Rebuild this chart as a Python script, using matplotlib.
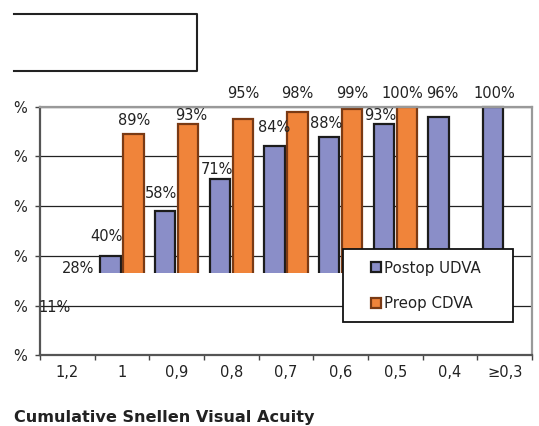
import numpy as np
import matplotlib.pyplot as plt
from matplotlib.patches import Rectangle
from matplotlib.lines import Line2D

# ── data ────────────────────────────────────────────────────────────────────
categories = ["1,2", "1", "0,9", "0,8", "0,7", "0,6", "0,5", "0,4", "≥0,3"]
postop_udva = [11, 40, 58, 71, 84, 88, 93, 96, 100]
preop_cdva = [28, 89, 93, 95, 98, 99, 100, np.nan, np.nan]
series_names = ["Postop UDVA", "Preop CDVA"]
yticks = [0, 20, 40, 60, 80, 100]
# the image is cropped on the left: only the "%" of the axis labels is left
ytick_labels = ["%"] * len(yticks)

# where the data labels sit (in % units) and small sideways nudges (pixels)
postop_lab_y = [19.1, 47.7, 65.2, 74.8, 91.6, 93.3, 96.4, 105.4, 105.4]
preop_lab_y = [35.0, 94.4, 96.3, 105.4, 105.4, 105.4, 105.4, 0, 0]
postop_lab_dx = [-1, -4, -4, -3, 0, -3, -4, 3.5, 1.5]
preop_lab_dx = [-0.5, 1, 3, 0.5, 0, 0, -5, 0, 0]

# the bars of the original are cut off below this level
CUT = 33.25

BLUE, BLUE_EDGE = "#8a8ec8", "#1c1c1c"
ORANGE, ORANGE_EDGE = "#f0843a", "#7a3a14"
FS = 10.5

W, H = 539, 426
fig = plt.figure(figsize=(W / 100, H / 100), dpi=100, facecolor="white")
ax = fig.add_axes([40 / W, (H - 355.4) / H, 492 / W, 248.7 / H])

x = np.arange(len(categories))
post = np.array(postop_udva, dtype=float)
pre = np.array(preop_cdva, dtype=float)
ok = ~np.isnan(pre)

bars_post = ax.bar(x - 0.21, post, 0.37, color=BLUE, edgecolor=BLUE_EDGE,
                   linewidth=1.6, zorder=2)
bars_pre = ax.bar(x[ok] + 0.21, pre[ok], 0.37, color=ORANGE,
                  edgecolor=ORANGE_EDGE, linewidth=1.6, zorder=2)

clip = Rectangle((-0.5, CUT), len(categories), 100, transform=ax.transData)
for b in list(bars_post) + list(bars_pre):
    b.set_clip_path(clip)

# data labels
for i in range(len(categories)):
    ax.annotate(f"{int(post[i])}%", (x[i] - 0.21, postop_lab_y[i]),
                xytext=(postop_lab_dx[i], 0), textcoords="offset pixels",
                ha="center", va="center", fontsize=FS, color="#222",
                annotation_clip=False, zorder=4)
    if ok[i]:
        ax.annotate(f"{int(pre[i])}%", (x[i] + 0.21, preop_lab_y[i]),
                    xytext=(preop_lab_dx[i], 0), textcoords="offset pixels",
                    ha="center", va="center", fontsize=FS, color="#222",
                    annotation_clip=False, zorder=4)

ax.set_xlim(-0.5, len(categories) - 0.5)
ax.set_ylim(0, 100)
ax.set_xticks(np.arange(-0.5, len(categories), 1.0), minor=False)
ax.set_xticklabels([])
ax.set_xticks(x, minor=True)
ax.set_xticklabels(categories, minor=True, fontsize=FS, color="#222")
ax.tick_params(axis="x", which="major", length=3.6, width=1, color="#444")
ax.tick_params(axis="x", which="minor", length=0, pad=7)
ax.set_yticks(yticks)
ax.set_yticklabels(ytick_labels, fontsize=FS, color="#222")
ax.tick_params(axis="y", length=3.6, width=1, color="#444", pad=5.5)

ax.set_axisbelow(True)
ax.yaxis.grid(True, color="#222", linewidth=0.9)
for s in ["left", "bottom"]:
    ax.spines[s].set_color("#555")
    ax.spines[s].set_linewidth(1.6)
for s in ["top", "right"]:
    ax.spines[s].set_color("#999")
    ax.spines[s].set_linewidth(1.6)

# legend
handles = [
    Line2D([], [], marker="s", ls="none", markersize=7.2,
           markerfacecolor=BLUE, markeredgecolor=BLUE_EDGE, mew=1.6),
    Line2D([], [], marker="s", ls="none", markersize=7.2,
           markerfacecolor=ORANGE, markeredgecolor=ORANGE_EDGE, mew=1.6),
]
leg = ax.legend(handles, series_names, loc="upper left",
                bbox_to_anchor=(342.7 / W, 1 - 321 / H, 170 / W, 71.7 / H),
                bbox_transform=fig.transFigure, mode="expand",
                borderaxespad=0, borderpad=0.75, handlelength=3.0,
                handletextpad=-1.0, labelspacing=1.35, fontsize=10.8,
                frameon=True, fancybox=False, framealpha=1,
                edgecolor="#111")
leg.get_frame().set_linewidth(1.3)
for t in leg.get_texts():
    t.set_color("#222")

# empty framed box at top left (its left side is cropped away)
box_x = [14 / W, 196.5 / W, 196.5 / W, 14 / W]
box_y = [(H - 14) / H, (H - 14) / H, (H - 71) / H, (H - 71) / H]
fig.add_artist(Line2D(box_x, box_y, transform=fig.transFigure,
                      color="#222", linewidth=1.5))

fig.text(14 / W, 4 / H, "Cumulative Snellen Visual Acuity", fontsize=11.6,
         fontweight="bold", color="#222", ha="left", va="baseline")

fig.savefig("out.png", dpi=100, facecolor="white")
